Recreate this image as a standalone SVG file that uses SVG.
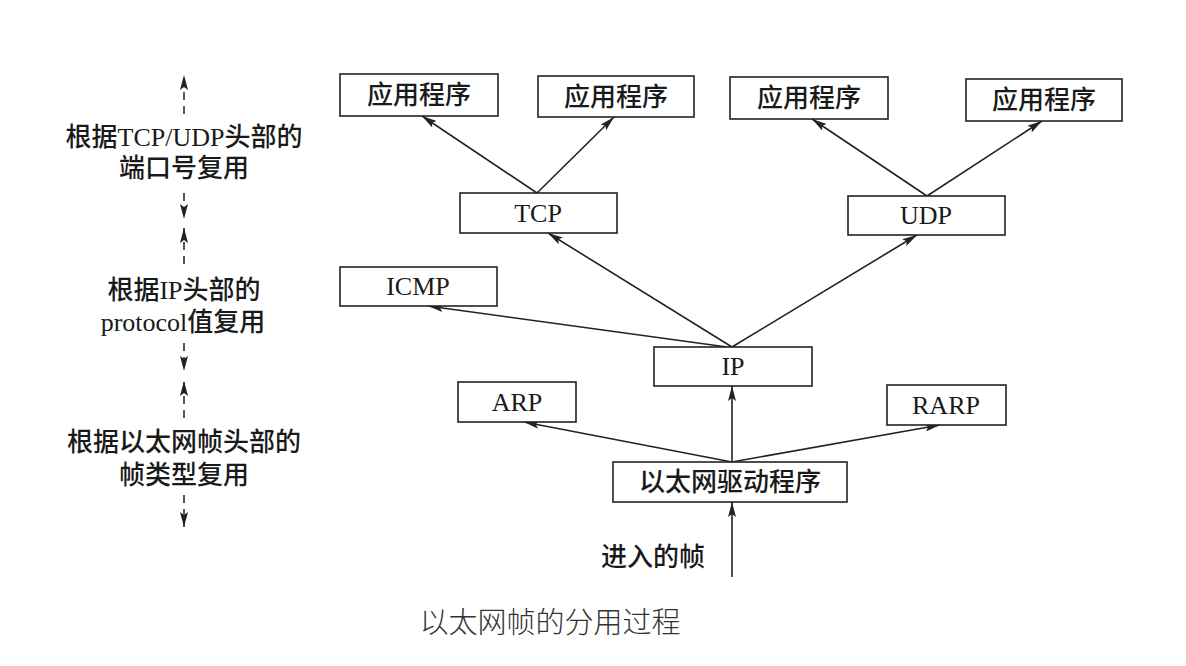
<svg xmlns="http://www.w3.org/2000/svg" width="1186" height="666" viewBox="0 0 1186 666">
<defs>
<marker id="ah" viewBox="0 0 15 8" refX="15" refY="4" markerWidth="15" markerHeight="8" markerUnits="userSpaceOnUse" orient="auto">
<path d="M0,0 L15,4 L0,8 L3,4 Z" fill="#222"/>
</marker>
<style>
.box{fill:#fff;stroke:#222;stroke-width:1.6}
.cjk{font-family:"Noto Sans CJK SC","Noto Sans",sans-serif;font-size:26px;font-weight:500;fill:#1a1a1a;text-anchor:middle}
.lat{font-family:"Liberation Serif","Times New Roman",serif;font-size:26px;fill:#1a1a1a;text-anchor:middle}
.ser{font-family:"Liberation Serif","Times New Roman",serif;font-weight:normal}
.ln{stroke:#222;stroke-width:1.6;fill:none;marker-end:url(#ah)}
.dl{stroke:#222;stroke-width:1.5;fill:none;stroke-dasharray:8 6;marker-end:url(#ah)}
.cap{font-family:"Noto Sans CJK SC","Noto Sans",sans-serif;font-size:29px;fill:#333;text-anchor:middle;font-weight:300}
</style>
</defs>
<rect width="1186" height="666" fill="#fff"/>

<g id="connectors">
<line class="ln" x1="537" y1="193" x2="422" y2="116"/>
<line class="ln" x1="537" y1="193" x2="614" y2="117"/>
<line class="ln" x1="927" y1="196" x2="812" y2="119"/>
<line class="ln" x1="927" y1="196" x2="1042" y2="121"/>
<line class="ln" x1="732" y1="347" x2="548" y2="233"/>
<line class="ln" x1="732" y1="347" x2="917" y2="235"/>
<line class="ln" x1="727" y1="347" x2="428" y2="306"/>
<line class="ln" x1="732" y1="462" x2="732" y2="386"/>
<line class="ln" x1="732" y1="462" x2="524" y2="422"/>
<line class="ln" x1="732" y1="462" x2="940" y2="425"/>
<line class="ln" x1="732" y1="577" x2="732" y2="502"/>
<line class="dl" x1="184" y1="114" x2="184" y2="75"/>
<line class="dl" x1="184" y1="193" x2="184" y2="219"/>
<line class="dl" x1="184" y1="264" x2="184" y2="228"/>
<line class="dl" x1="184" y1="343" x2="184" y2="371"/>
<line class="dl" x1="184" y1="418" x2="184" y2="381"/>
<line class="dl" x1="184" y1="495" x2="184" y2="527"/>
</g>

<g id="app1"><rect class="box" x="340" y="74" width="158" height="42"/><text class="cjk" x="419" y="104">应用程序</text></g>
<g id="app2"><rect class="box" x="538" y="76" width="156" height="41"/><text class="cjk" x="616" y="106">应用程序</text></g>
<g id="app3"><rect class="box" x="730" y="77" width="158" height="42"/><text class="cjk" x="809" y="107">应用程序</text></g>
<g id="app4"><rect class="box" x="966" y="79" width="156" height="42"/><text class="cjk" x="1044" y="109">应用程序</text></g>
<g id="tcp"><rect class="box" x="460" y="193" width="157" height="40"/><text class="lat" x="538" y="222">TCP</text></g>
<g id="udp"><rect class="box" x="848" y="196" width="157" height="39"/><text class="lat" x="926" y="224">UDP</text></g>
<g id="icmp"><rect class="box" x="340" y="267" width="157" height="39"/><text class="lat" x="418" y="295">ICMP</text></g>
<g id="ip"><rect class="box" x="654" y="347" width="158" height="39"/><text class="lat" x="733" y="375">IP</text></g>
<g id="arp"><rect class="box" x="458" y="382" width="118" height="40"/><text class="lat" x="517" y="411">ARP</text></g>
<g id="rarp"><rect class="box" x="887" y="385" width="119" height="40"/><text class="lat" x="946" y="414">RARP</text></g>
<g id="eth"><rect class="box" x="613" y="462" width="234" height="40"/><text class="cjk" x="730" y="491">以太网驱动程序</text></g>
<g id="incoming"><text class="cjk" x="653" y="566">进入的帧</text></g>

<g id="labels">
<text class="cjk" x="184" y="146">根据<tspan class="ser">TCP/UDP</tspan>头部的</text>
<text class="cjk" x="184" y="177">端口号复用</text>
<text class="cjk" x="184" y="299">根据<tspan class="ser">IP</tspan>头部的</text>
<text class="cjk" x="183" y="331"><tspan class="ser">protocol</tspan>值复用</text>
<text class="cjk" x="184" y="451">根据以太网帧头部的</text>
<text class="cjk" x="184" y="484">帧类型复用</text>
</g>

<g id="caption"><text class="cap" x="550" y="633">以太网帧的分用过程</text></g>
</svg>
